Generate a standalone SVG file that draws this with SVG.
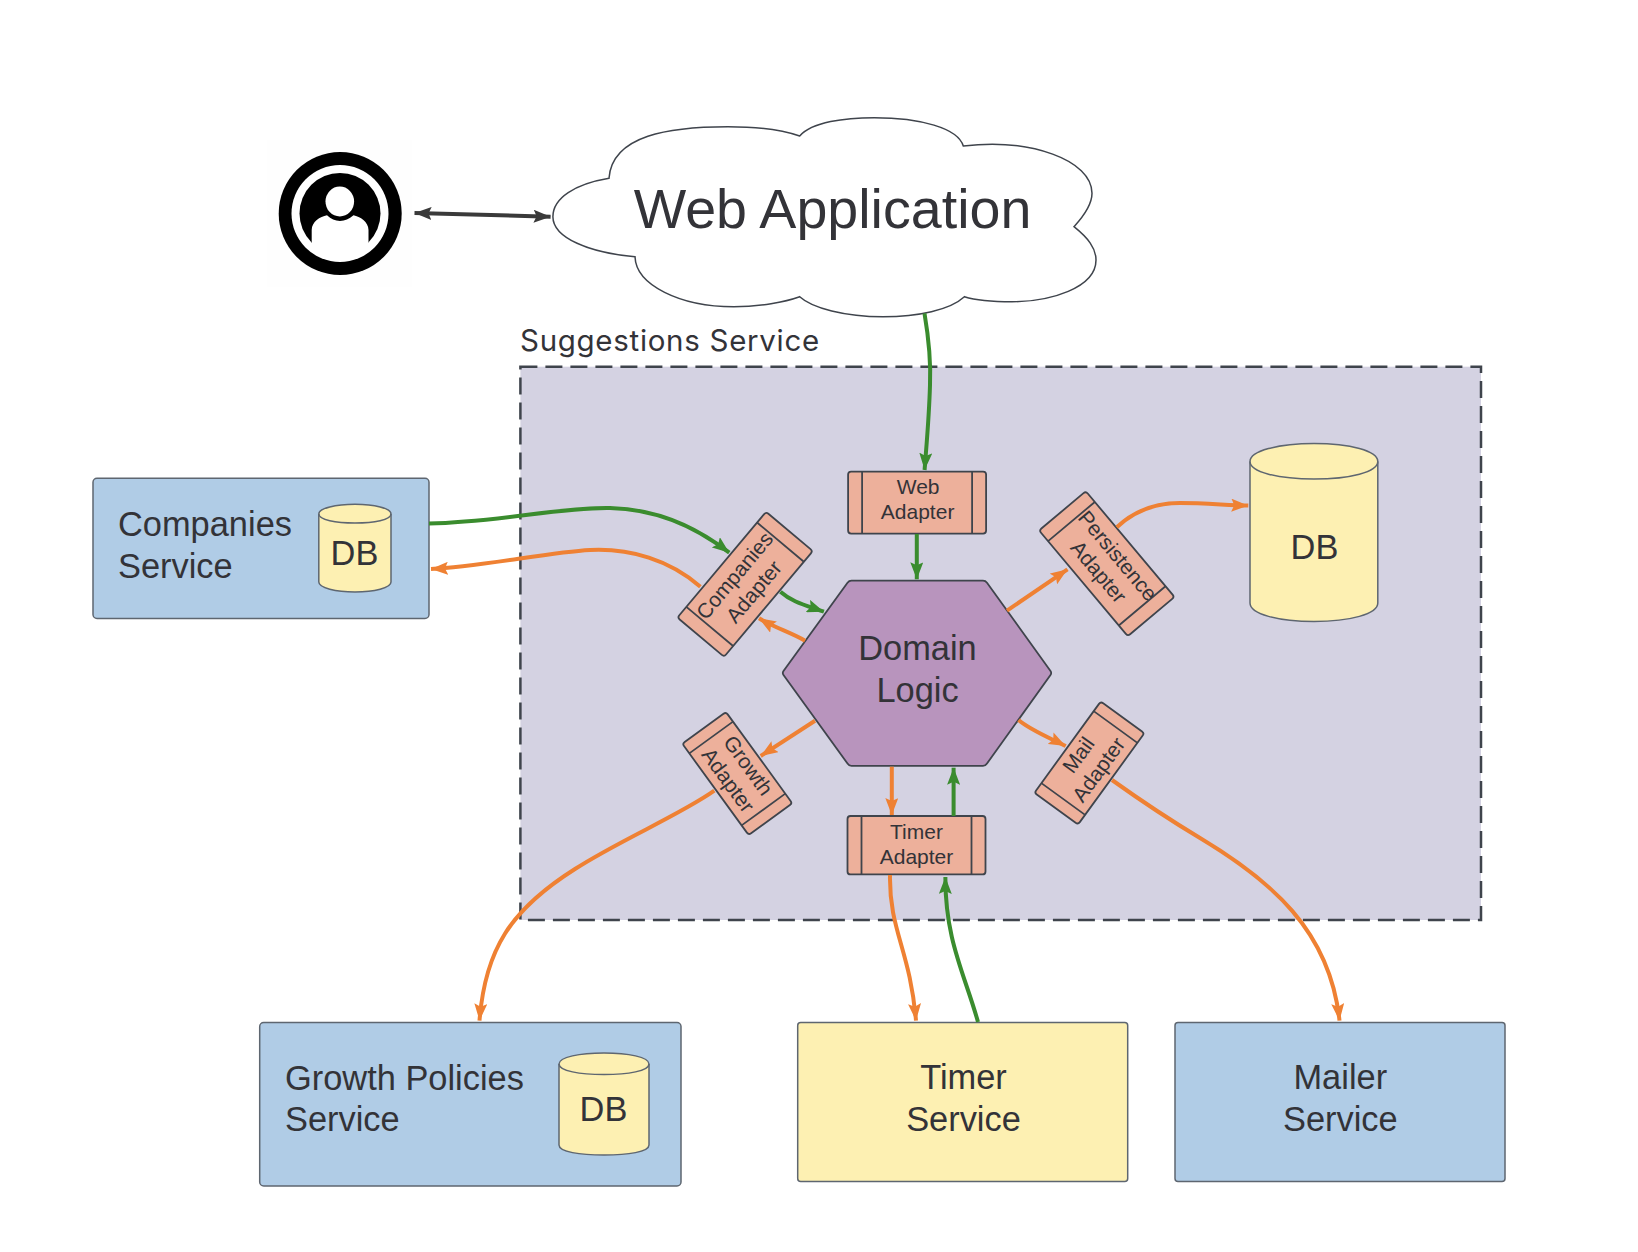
<svg xmlns="http://www.w3.org/2000/svg" width="1638" height="1252" viewBox="0 0 1638 1252">
<style>
text{font-family:"Liberation Sans",Arial,sans-serif;fill:#333338}
.big{font-size:34.4px}
.sm{font-size:21px;text-anchor:middle}
.mid{text-anchor:middle}
.box{stroke:#5e6670;stroke-width:1.5}
.blue{fill:#b0cce6}
.yellow{fill:#fdf0b2}
.cyl{fill:#fdf0b2;stroke:#5e6670;stroke-width:1.5}
.ad{fill:#edb09b;stroke:#3f444c;stroke-width:1.8}
.adl{fill:none;stroke:#3f444c;stroke-width:1.8}
.c{fill:none;stroke-width:4}
.g{stroke:#3a8c2e;marker-end:url(#ag)}
.o{stroke:#ef8133;marker-end:url(#ao)}
</style>
<defs>
<marker id="ag" markerUnits="userSpaceOnUse" viewBox="0 0 17 13" markerWidth="17" markerHeight="13" refX="17" refY="6.5" orient="auto"><path d="M0 0L17 6.500L0 13L3 6.500Z" fill="#3a8c2e"/></marker>
<marker id="ao" markerUnits="userSpaceOnUse" viewBox="0 0 17 13" markerWidth="17" markerHeight="13" refX="17" refY="6.5" orient="auto"><path d="M0 0L17 6.500L0 13L3 6.500Z" fill="#ef8133"/></marker>
<marker id="ak" markerUnits="userSpaceOnUse" viewBox="0 0 17 13" markerWidth="17" markerHeight="13" refX="17" refY="6.5" orient="auto-start-reverse"><path d="M0 0L17 6.500L0 13L3 6.500Z" fill="#3a3a3a"/></marker>
</defs>
<rect width="1638" height="1252" fill="#fff"/>

<g id="suggestions-service">
<rect x="520.400" y="366.700" width="960.600" height="553.300" fill="#d4d2e2" stroke="#3f444c" stroke-width="2.500" stroke-dasharray="17 8"/>
<text x="520" y="350.500" font-size="29.500" letter-spacing="0.700" style="font-family:Inter,'Liberation Sans',sans-serif">Suggestions Service</text>
</g>

<g id="actor">
<rect x="267" y="140" width="145" height="147" fill="#fefefe"/>
<circle cx="340.200" cy="213.500" r="61.500" fill="#000"/>
<circle cx="340" cy="213.500" r="48.500" fill="#fff"/>
<circle cx="340" cy="213.500" r="40.500" fill="#000"/>
<path d="M311.700 243.300V230C311.700 222 320 216.500 327 215.300C331 219 335 221 340 221C345 221 349 219 353.500 215.300C360 216.500 368.500 222 368.500 230V243.300A32 32 0 0 1 311.700 243.300Z" fill="#fff"/>
<ellipse cx="339.800" cy="201.500" rx="14.300" ry="15" fill="#fff"/>
</g>

<g id="web-application">
<path d="M609 178.300C612 135 670 126.700 728 126.700C755 126.700 782 130 799.700 136C812 122 845 117.700 874.300 117.700C920 117.700 958 128 963.300 146C1030 138 1092 160 1092 193.300C1092 205 1082 218 1074 226.700C1088 238 1096 248 1096 260C1096 288 1050 301.700 1012 301.700C992 301.700 975 300 964.400 296.700C950 310 918 316.700 883 316.700C845 316.700 812 308 799.700 296.700C785 302 760 306.700 733.700 306.700C680 306.700 636 285 635 256.700C590 253 552.900 238 552.900 216.700C552.900 198 575 184 609 178.300Z" fill="#fff" stroke="#3f444c" stroke-width="1.500"/>
<text x="832.500" y="228" font-size="55.600" class="mid">Web Application</text>
</g>

<g id="companies-service">
<rect class="box blue" x="93" y="478.300" width="336" height="140.200" rx="4"/>
<text class="big" x="118" y="536">Companies</text>
<text class="big" x="118" y="578">Service</text>
<path class="cyl" d="M318.800 514C318.800 508 336 504.300 355 504.300S391 508 391 514V582C391 588 374 592 355 592S318.800 588 318.800 582Z"/>
<path d="M318.800 514C318.800 520 336 523 355 523S391 520 391 514" fill="none" stroke="#5e6670" stroke-width="1.500"/>
<text class="big mid" x="354.500" y="565">DB</text>
</g>

<g id="growth-policies-service">
<rect class="box blue" x="259.700" y="1022.600" width="421.300" height="163.400" rx="4"/>
<text class="big" x="285" y="1089.500">Growth Policies</text>
<text class="big" x="285" y="1131">Service</text>
<path class="cyl" d="M559 1064C559 1057 580 1053 604 1053S649 1057 649 1064V1145C649 1152 628 1155 604 1155S559 1152 559 1145Z"/>
<path d="M559 1064C559 1071 580 1074.500 604 1074.500S649 1071 649 1064" fill="none" stroke="#5e6670" stroke-width="1.500"/>
<text class="big mid" x="603.500" y="1120.500">DB</text>
</g>

<g id="timer-service">
<rect class="box yellow" x="797.700" y="1022.600" width="330" height="159" rx="3"/>
<text class="big mid" x="963.500" y="1089">Timer</text>
<text class="big mid" x="963.500" y="1130.800">Service</text>
</g>

<g id="mailer-service">
<rect class="box blue" x="1175" y="1022.600" width="330" height="159" rx="3"/>
<text class="big mid" x="1340.300" y="1089">Mailer</text>
<text class="big mid" x="1340.300" y="1130.800">Service</text>
</g>

<g id="database">
<path class="cyl" d="M1250 461.500C1250 451 1278 443.500 1314 443.500S1377.800 451 1377.800 461.500V603C1377.800 614 1350 621.500 1314 621.500S1250 614 1250 603Z"/>
<path d="M1250 461.500C1250 472 1278 479 1314 479S1377.800 472 1377.800 461.500" fill="none" stroke="#5e6670" stroke-width="1.500"/>
<text class="big mid" x="1314.500" y="558.500">DB</text>
</g>

<g id="domain-logic">
<path d="M851.500 580.700H983Q985.500 580.700 987 582.700L1050.500 671Q1051.900 673 1050.500 675L987 763.500Q985.500 765.800 983 765.800H851.500Q849 765.800 847.500 763.500L783.500 675Q782.100 673 783.500 671L847.500 582.700Q849 580.700 851.500 580.700Z" fill="#b894bd" stroke="#3f444c" stroke-width="1.800"/>
<text class="big mid" x="917.500" y="660">Domain</text>
<text class="big mid" x="917.500" y="702.300">Logic</text>
</g>

<g id="web-adapter" transform="translate(917.100 502.600)">
<rect class="ad" x="-69" y="-31" width="138" height="62" rx="3"/>
<path class="adl" d="M-55 -31V31M55 -31V31"/>
<text class="sm" x="1" y="-8.300">Web</text><text class="sm" x="0.500" y="16.700">Adapter</text>
</g>
<g id="timer-adapter" transform="translate(916.500 845.200)">
<rect class="ad" x="-69" y="-29.200" width="138" height="58.400" rx="3"/>
<path class="adl" d="M-55 -29.200V29.200M55 -29.200V29.200"/>
<text class="sm" y="-6">Timer</text><text class="sm" y="19">Adapter</text>
</g>
<g id="companies-adapter" transform="translate(745.100 584.300) rotate(-50)">
<rect class="ad" x="-69" y="-30.500" width="138" height="61" rx="3"/>
<path class="adl" d="M-55 -30.500V30.500M55 -30.500V30.500"/>
<text class="sm" y="-6.400">Companies</text><text class="sm" y="18.600">Adapter</text>
</g>
<g id="persistence-adapter" transform="translate(1106.800 563.700) rotate(50)">
<rect class="ad" x="-69" y="-30.500" width="138" height="61" rx="3"/>
<path class="adl" d="M-55 -30.500V30.500M55 -30.500V30.500"/>
<text class="sm" x="1" y="-6.400">Persistence</text><text class="sm" x="1" y="18.600">Adapter</text>
</g>
<g id="growth-adapter" transform="translate(737.300 773.500) rotate(54)">
<rect class="ad" x="-56.500" y="-27" width="113" height="54" rx="3"/>
<path class="adl" d="M-44.500 -27V27M44.500 -27V27"/>
<text class="sm" y="-6.400">Growth</text><text class="sm" y="18.600">Adapter</text>
</g>
<g id="mail-adapter" transform="translate(1089.400 763) rotate(-54)">
<rect class="ad" x="-56.500" y="-27" width="113" height="54" rx="3"/>
<path class="adl" d="M-44.500 -27V27M44.500 -27V27"/>
<text class="sm" y="-6.400">Mail</text><text class="sm" y="18.600">Adapter</text>
</g>

<g id="connectors">
<path d="M414.500 213L550.600 216.700" fill="none" stroke="#3a3a3a" stroke-width="4" marker-start="url(#ak)" marker-end="url(#ak)"/>
<path class="c g" d="M924.500 313.400C929 340 931 362 930 385C929 420 926 450 924.600 470"/>
<path class="c g" d="M916.800 534V579.300"/>
<path class="c g" d="M429 523.500C500 522 560 507 610 508C660 509 700 530 729.300 552.700"/>
<path class="c o" d="M700.400 586.700C670 560 630 548 590 550C550 552 480 567 431 569"/>
<path class="c g" d="M780.400 591.700C792 602 805 605 823.900 611.700"/>
<path class="c o" d="M805 640.700C790 632 775 628 759 618.300"/>
<path class="c o" d="M1007 610.700L1067.500 569.300"/>
<path class="c o" d="M1116.800 527.300C1135 510 1155 503 1180 503C1205 503 1225 505 1248.300 505.600"/>
<path class="c o" d="M815 720.700L760.700 756"/>
<path class="c o" d="M714.300 790.700C680 815 620 840 575 869C510 910 485 950 479.500 1020.600"/>
<path class="c o" d="M1018.600 720C1030 730 1050 738 1065.700 746"/>
<path class="c o" d="M1112 780C1140 800 1170 820 1200 838C1270 880 1330 930 1339.500 1020.600"/>
<path class="c o" d="M891.800 766.700V815"/>
<path class="c g" d="M953.600 816V767.700"/>
<path class="c o" d="M890 875C889 930 910 950 916 1020.600"/>
<path class="c g" d="M978 1022C965 975 945 940 945.400 877"/>
</g>
</svg>
